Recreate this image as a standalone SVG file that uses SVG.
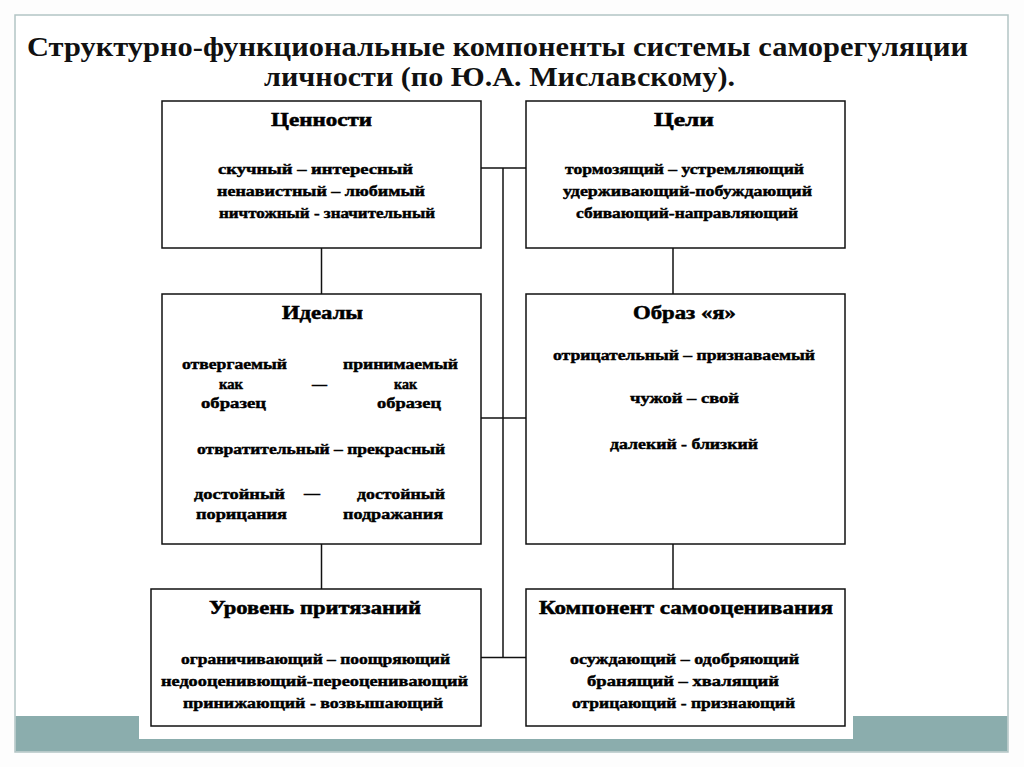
<svg xmlns="http://www.w3.org/2000/svg" width="1024" height="767" viewBox="0 0 1024 767">
<style>
.frame{fill:#ffffff;stroke:#b3c5c5;stroke-width:1.5}
.band{fill:#8badad}
.panel{fill:#ffffff}
.box{fill:#ffffff;stroke:#111111;stroke-width:1.5}
.conn{stroke:#111111;stroke-width:1.5;fill:none}
.title{font-family:"Liberation Serif","Times New Roman",serif;font-weight:bold;font-size:27px;fill:#111111}
.h{font-family:"Liberation Serif","Times New Roman",serif;font-weight:bold;font-size:18px;fill:#000000;stroke:#000000;stroke-width:0.5}
.t{font-family:"Liberation Serif","Times New Roman",serif;font-weight:bold;font-size:15px;fill:#000000;stroke:#000000;stroke-width:0.45}
</style>
<rect x="0" y="0" width="1024" height="767" fill="#fdfdfd"/>
<rect class="frame" x="15" y="15" width="993" height="737"/>
<rect class="band" x="15.75" y="716" width="991.5" height="35.25"/>
<rect class="panel" x="139" y="95" width="714" height="644"/>
<g id="title">
<text class="title" x="27" y="56" textLength="941" lengthAdjust="spacingAndGlyphs">Структурно-функциональные компоненты системы саморегуляции</text>
<text class="title" x="264" y="86" textLength="471" lengthAdjust="spacingAndGlyphs">личности (по Ю.А. Миславскому).</text>
</g>
<g id="connectors">
<line class="conn" x1="503" y1="168" x2="503" y2="657.5"/>
<line class="conn" x1="481" y1="168" x2="526" y2="168"/>
<line class="conn" x1="481" y1="418" x2="526" y2="418"/>
<line class="conn" x1="481" y1="657.5" x2="526" y2="657.5"/>
<line class="conn" x1="321.5" y1="248" x2="321.5" y2="294"/>
<line class="conn" x1="321.5" y1="544" x2="321.5" y2="589"/>
<line class="conn" x1="673" y1="248" x2="673" y2="294"/>
<line class="conn" x1="673" y1="544" x2="673" y2="589"/>
</g>
<g id="cennosti">
<rect class="box" x="162" y="101" width="319" height="147"/>
<text class="h" x="271" y="125.5" textLength="101" lengthAdjust="spacingAndGlyphs">Ценности</text>
<text class="t" x="218" y="174" textLength="195" lengthAdjust="spacingAndGlyphs">скучный – интересный</text>
<text class="t" x="217" y="196" textLength="208" lengthAdjust="spacingAndGlyphs">ненавистный – любимый</text>
<text class="t" x="219" y="217.5" textLength="216" lengthAdjust="spacingAndGlyphs">ничтожный - значительный</text>
</g>
<g id="celi">
<rect class="box" x="526" y="101" width="319" height="147"/>
<text class="h" x="654" y="125.5" textLength="60" lengthAdjust="spacingAndGlyphs">Цели</text>
<text class="t" x="565" y="174" textLength="239" lengthAdjust="spacingAndGlyphs">тормозящий – устремляющий</text>
<text class="t" x="563" y="196" textLength="249" lengthAdjust="spacingAndGlyphs">удерживающий-побуждающий</text>
<text class="t" x="576" y="217.5" textLength="222" lengthAdjust="spacingAndGlyphs">сбивающий-направляющий</text>
</g>
<g id="idealy">
<rect class="box" x="162" y="294" width="319" height="250"/>
<text class="h" x="282" y="319" textLength="81" lengthAdjust="spacingAndGlyphs">Идеалы</text>
<text class="t" x="182" y="368.5" textLength="105" lengthAdjust="spacingAndGlyphs">отвергаемый</text>
<text class="t" x="343" y="368.5" textLength="115" lengthAdjust="spacingAndGlyphs">принимаемый</text>
<text class="t" x="219" y="389" textLength="24" lengthAdjust="spacingAndGlyphs">как</text>
<text class="t" x="312" y="389" textLength="15" lengthAdjust="spacingAndGlyphs">—</text>
<text class="t" x="394" y="389" textLength="23" lengthAdjust="spacingAndGlyphs">как</text>
<text class="t" x="201" y="407.5" textLength="65" lengthAdjust="spacingAndGlyphs">образец</text>
<text class="t" x="377" y="407.5" textLength="64" lengthAdjust="spacingAndGlyphs">образец</text>
<text class="t" x="197" y="454" textLength="248" lengthAdjust="spacingAndGlyphs">отвратительный – прекрасный</text>
<text class="t" x="194" y="499" textLength="91" lengthAdjust="spacingAndGlyphs">достойный</text>
<text class="t" x="304" y="498" textLength="16" lengthAdjust="spacingAndGlyphs">—</text>
<text class="t" x="357" y="499" textLength="88" lengthAdjust="spacingAndGlyphs">достойный</text>
<text class="t" x="196" y="519" textLength="91" lengthAdjust="spacingAndGlyphs">порицания</text>
<text class="t" x="343" y="519" textLength="100" lengthAdjust="spacingAndGlyphs">подражания</text>
</g>
<g id="obraz">
<rect class="box" x="526" y="294" width="319" height="250"/>
<text class="h" x="633" y="319" textLength="103" lengthAdjust="spacingAndGlyphs">Образ «я»</text>
<text class="t" x="553" y="360" textLength="262" lengthAdjust="spacingAndGlyphs">отрицательный – признаваемый</text>
<text class="t" x="630" y="402.5" textLength="109" lengthAdjust="spacingAndGlyphs">чужой – свой</text>
<text class="t" x="610" y="449" textLength="148" lengthAdjust="spacingAndGlyphs">далекий - близкий</text>
</g>
<g id="uroven">
<rect class="box" x="151" y="589" width="330" height="137"/>
<text class="h" x="209" y="614" textLength="212" lengthAdjust="spacingAndGlyphs">Уровень притязаний</text>
<text class="t" x="181" y="664" textLength="269" lengthAdjust="spacingAndGlyphs">ограничивающий – поощряющий</text>
<text class="t" x="161" y="686" textLength="307" lengthAdjust="spacingAndGlyphs">недооценивющий-переоценивающий</text>
<text class="t" x="183" y="707.5" textLength="260" lengthAdjust="spacingAndGlyphs">принижающий - возвышающий</text>
</g>
<g id="samoocenivanie">
<rect class="box" x="526" y="589" width="319" height="137"/>
<text class="h" x="539" y="614" textLength="294" lengthAdjust="spacingAndGlyphs">Компонент самооценивания</text>
<text class="t" x="570" y="664" textLength="229" lengthAdjust="spacingAndGlyphs">осуждающий – одобряющий</text>
<text class="t" x="587" y="686" textLength="192" lengthAdjust="spacingAndGlyphs">бранящий – хвалящий</text>
<text class="t" x="572" y="707.5" textLength="223" lengthAdjust="spacingAndGlyphs">отрицающий - признающий</text>
</g>
</svg>
